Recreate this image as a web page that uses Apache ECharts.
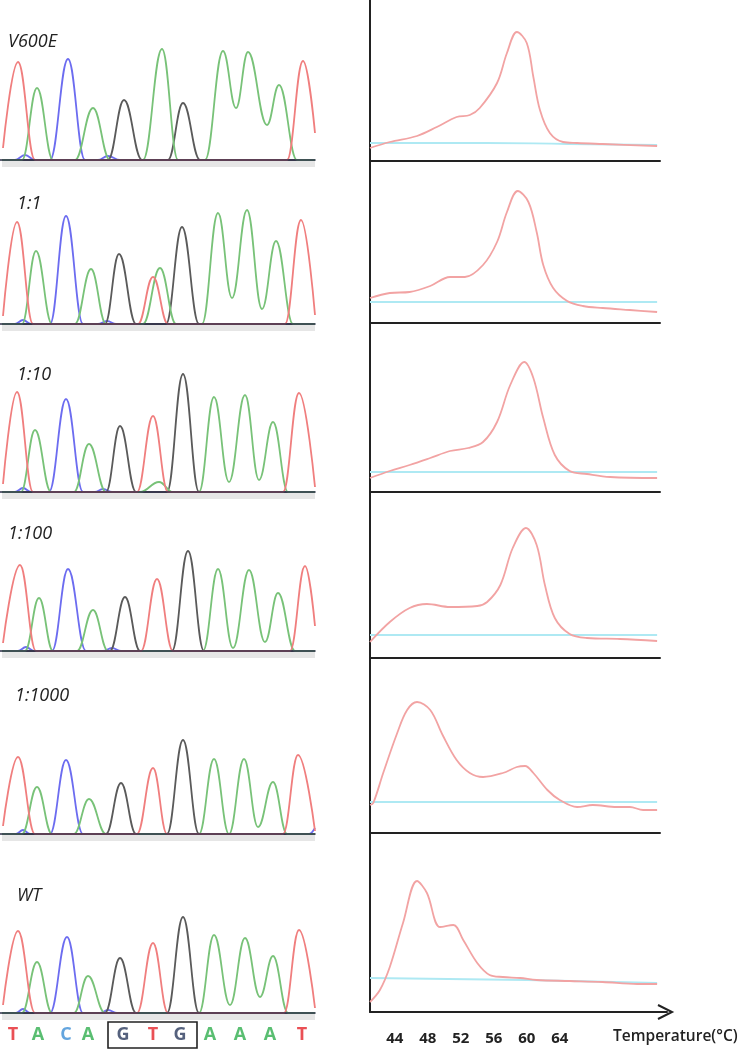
<!DOCTYPE html>
<html>
<head>
<meta charset="utf-8">
<script src="https://cdn.jsdelivr.net/npm/echarts@6/dist/echarts.min.js"></script>
<style>
  html, body { margin: 0; padding: 0; background: #fff; }
  #chart { width: 742px; height: 1050px; }
</style>
</head>
<body>
<div id="chart"></div>
<script>
// sample labels, top to bottom
const panelNames = ['V600E', '1:1', '1:10', '1:100', '1:1000', 'WT'];

// chromatogram traces, one continuous line per dye: [base, [[position, signal], ...]]
const traceV600E = [
  ['C', [[2, 0], [15, 0], [25, 5], [35, 0], [50, 0], [68, 101], [85, 0], [98, 0], [108, 4], [120, 0], [315, 0]]],
  ['G', [[2, 0], [108, 0], [124, 60], [142, 0], [168, 0], [183, 57], [200, 0], [315, 0]]],
  ['A', [[2, 0], [22, 0], [37, 72], [53, 0], [75, 0], [93, 52], [110, 0], [143, 0], [162, 111], [178, 0], [205, 0], [223, 109], [236, 52], [248, 108], [267, 35], [279, 75], [297, 0], [315, 0]]],
  ['T', [[3, 12], [18, 98], [35, 0], [287, 0], [303, 99], [315, 27]]]
];
const trace1to1 = [
  ['C', [[2, 0], [15, 0], [23, 4], [31, 0], [50, 0], [66, 108], [83, 0], [98, 0], [107, 3], [116, 0], [315, 0]]],
  ['G', [[2, 0], [105, 0], [119, 70], [136, 0], [166, 0], [182, 97], [199, 0], [315, 0]]],
  ['A', [[2, 0], [22, 0], [36, 73], [52, 0], [75, 0], [91, 55], [106, 0], [143, 0], [160, 56], [176, 0], [202, 0], [218, 111], [232, 26], [247, 114], [262, 15], [276, 83], [293, 0], [315, 0]]],
  ['T', [[3, 8], [17, 102], [33, 0], [138, 0], [153, 47], [168, 0], [285, 0], [301, 104], [315, 9]]]
];
const trace1to10 = [
  ['C', [[2, 0], [15, 0], [23, 4], [31, 0], [49, 0], [66, 93], [83, 0], [95, 0], [103, 3], [112, 0], [315, 0]]],
  ['G', [[2, 0], [106, 0], [120, 66], [136, 0], [167, 0], [183, 118], [199, 0], [315, 0]]],
  ['A', [[2, 0], [21, 0], [35, 62], [51, 0], [74, 0], [89, 48], [106, 0], [140, 0], [159, 10], [173, 0], [199, 0], [214, 95], [229, 10], [245, 97], [259, 12], [273, 70], [288, 0], [315, 0]]],
  ['T', [[3, 8], [17, 100], [33, 0], [137, 0], [153, 76], [168, 0], [283, 0], [299, 99], [315, 5]]]
];
const trace1to100 = [
  ['C', [[2, 0], [18, 0], [26, 4], [34, 0], [52, 0], [68, 82], [86, 0], [103, 0], [112, 3], [121, 0], [315, 0]]],
  ['G', [[2, 0], [110, 0], [125, 54], [140, 0], [172, 0], [188, 100], [204, 0], [315, 0]]],
  ['A', [[2, 0], [25, 0], [39, 53], [53, 0], [77, 0], [93, 41], [108, 0], [203, 0], [218, 82], [233, 3], [249, 81], [265, 9], [278, 58], [295, 0], [315, 0]]],
  ['T', [[3, 8], [20, 86], [36, 0], [141, 0], [157, 72], [173, 0], [290, 0], [305, 85], [315, 25]]]
];
const trace1to1000 = [
  ['C', [[2, 0], [16, 0], [23, 4], [30, 0], [50, 0], [66, 74], [83, 0], [309, 0], [315, 6]]],
  ['G', [[2, 0], [106, 0], [121, 51], [136, 0], [167, 0], [183, 94], [199, 0], [315, 0]]],
  ['A', [[2, 0], [22, 0], [37, 47], [52, 0], [74, 0], [89, 35], [106, 0], [199, 0], [214, 75], [229, 0], [244, 75], [258, 7], [273, 52], [287, 0], [315, 0]]],
  ['T', [[3, 8], [18, 77], [35, 0], [137, 0], [153, 66], [167, 0], [283, 0], [298, 79], [315, 3]]]
];
const traceWT = [
  ['C', [[2, 0], [16, 0], [23, 4], [30, 0], [50, 0], [67, 76], [83, 0], [100, 0], [108, 3], [117, 0], [315, 0]]],
  ['G', [[2, 0], [105, 0], [120, 55], [136, 0], [167, 0], [183, 96], [199, 0], [315, 0]]],
  ['A', [[2, 0], [22, 0], [37, 51], [52, 0], [74, 0], [88, 37], [105, 0], [199, 0], [214, 78], [230, 8], [245, 75], [260, 16], [273, 57], [288, 0], [315, 0]]],
  ['T', [[3, 8], [18, 82], [35, 0], [137, 0], [153, 70], [168, 0], [284, 0], [299, 83], [315, 5]]]
];
const traces = [traceV600E, trace1to1, trace1to10, trace1to100, trace1to1000, traceWT];

// melting curves: [temperature °C, -dF/dT]
const meltV600E = [[41.0, 13], [43.4, 19], [46.7, 25], [49.1, 34], [51.5, 44], [53.1, 46], [54.3, 53], [56.4, 78], [57.6, 108], [58.8, 129], [60.0, 118], [60.8, 84], [61.6, 51], [62.8, 28], [64.4, 19], [66.1, 18], [69.2, 17], [75.8, 15]];
const melt1to1 = [[41.0, 25], [43.4, 30], [45.8, 31], [48.3, 37], [50.7, 46], [52.5, 46], [54.7, 58], [56.4, 81], [57.6, 111], [58.9, 132], [60.2, 121], [61.2, 91], [62.0, 58], [63.2, 35], [64.9, 22], [66.8, 17], [69.2, 15], [72.5, 13], [75.8, 11]];
const melt1to10 = [[41.0, 14], [43.4, 21], [45.8, 27], [48.3, 34], [50.7, 41], [52.9, 44], [54.7, 50], [56.4, 70], [58.0, 107], [59.7, 130], [60.8, 114], [62.0, 74], [63.4, 37], [65.2, 21], [67.3, 18], [70.1, 15], [75.8, 14]];
const melt1to100 = [[41.0, 16], [43.4, 36], [45.8, 50], [47.9, 54], [50.7, 51], [54.0, 52], [55.2, 56], [56.8, 73], [58.3, 110], [59.9, 130], [61.2, 113], [62.2, 73], [63.4, 40], [65.2, 24], [67.3, 20], [71.3, 19], [75.8, 17]];
const melt1to1000 = [[41.0, 28], [41.4, 30], [42.6, 60], [44.3, 100], [45.5, 123], [46.7, 131], [48.3, 123], [49.8, 98], [51.5, 73], [53.1, 60], [54.7, 56], [57.1, 60], [58.8, 66], [59.8, 67], [60.8, 60], [62.5, 43], [64.0, 33], [66.1, 26], [68.0, 28], [70.9, 26], [72.5, 26], [74.1, 23], [75.8, 23]];
const meltWT = [[41.0, 10], [42.2, 22], [43.4, 45], [45.0, 89], [46.7, 131], [47.9, 119], [49.5, 85], [51.1, 87], [52.3, 72], [54.0, 49], [55.5, 37], [57.1, 35], [59.2, 34], [61.2, 32], [65.2, 31], [69.2, 30], [73.4, 28], [75.8, 28]];
const melts = [meltV600E, melt1to1, melt1to10, melt1to100, melt1to1000, meltWT];

// no-template control lines
const ntcV600E = [[41, 18], [55, 18], [65, 17], [75.8, 16]];
const ntc1to1 = [[41, 21], [75.8, 21]];
const ntc1to10 = [[41, 20], [75.8, 20]];
const ntc1to100 = [[41, 23], [75.8, 23]];
const ntc1to1000 = [[41, 31], [75.8, 31]];
const ntcWT = [[41, 34], [60, 32], [75.8, 29]];
const ntcs = [ntcV600E, ntc1to1, ntc1to10, ntc1to100, ntc1to1000, ntcWT];

// base calls under the WT trace
const bases = ['T', 'A', 'C', 'A', 'G', 'T', 'G', 'A', 'A', 'A', 'T'];
const basePos = [13, 38, 66, 88, 123, 153, 180, 210, 240, 270, 302];
const codonRange = [108, 197];

// temperature tick labels
const tempTicks = [44, 48, 52, 56, 60, 64];

// layout (pixels)
const leftBaseY = [160, 324, 492, 651, 834, 1013];
const rightAxisY = [161, 323, 492, 658, 833, 1012];
const labelTop = [33, 195, 366, 525, 687, 887];
const labelLeft = [8, 17, 17, 8, 15, 17];

const traceColor = { T: '#f07e7e', A: '#78c278', C: '#6c6cf0', G: '#5a5a5a' };
const letterColor = { T: '#e5242a', A: '#2fae4e', C: '#3d8fd6', G: '#2b3a5c' };

const chart = echarts.init(document.getElementById('chart'), null, { renderer: 'canvas' });
const option = {
  animation: false,
  backgroundColor: '#ffffff',
  title: [],
  grid: [],
  xAxis: [],
  yAxis: [],
  series: [],
  graphic: []
};

panelNames.forEach((name, i) => {
  // chromatogram panel
  const lg = option.grid.length;
  option.grid.push({ left: 0, top: leftBaseY[i] - 130, width: 315, height: 138 });
  option.xAxis.push({
    gridIndex: lg, type: 'value', min: 0, max: 315, z: 5,
    axisLine: { show: true, onZero: true, lineStyle: { color: '#2d2d48', width: 1.6 } },
    axisTick: { show: false }, axisLabel: { show: false }, splitLine: { show: false }
  });
  option.yAxis.push({ gridIndex: lg, type: 'value', min: -8, max: 130, show: false, splitLine: { show: false } });
  traces[i].forEach((trace, k) => {
    const s = {
      type: 'line', xAxisIndex: lg, yAxisIndex: lg,
      data: trace[1], smooth: 0.42, smoothMonotone: 'x', symbol: 'none', silent: true,
      lineStyle: { color: traceColor[trace[0]], width: 1.8 }
    };
    if (k === 0) {
      s.markArea = {
        silent: true, itemStyle: { color: '#e6e6e6' },
        data: [[{ coord: [2, -7] }, { coord: [315, 0] }]]
      };
    }
    option.series.push(s);
  });
  option.title.push({
    text: name, left: labelLeft[i], top: labelTop[i], padding: 0,
    textStyle: { fontFamily: 'Open Sans', fontStyle: 'italic', fontWeight: 'normal', fontSize: 18, color: '#222' }
  });

  // melting curve panel
  const rg = option.grid.length;
  const top = i === 0 ? 0 : rightAxisY[i - 1];
  const h = rightAxisY[i] - top;
  const last = i === panelNames.length - 1;
  option.grid.push({ left: 370, top: top, width: last ? 297 : 290, height: h });
  option.xAxis.push({
    gridIndex: rg, type: 'value', min: 41, max: last ? 77 : 76.15, interval: 1,
    axisLine: { show: true, onZero: false, lineStyle: { color: '#222', width: 2 } },
    axisTick: { show: false }, splitLine: { show: false },
    axisLabel: last ? {
      show: true, interval: 0, margin: 19, color: '#222',
      fontFamily: 'Open Sans', fontWeight: 'bold', fontSize: 15,
      formatter: v => (tempTicks.indexOf(v) >= 0 ? String(v) : '')
    } : { show: false }
  });
  option.yAxis.push({
    gridIndex: rg, type: 'value', min: 0, max: h,
    axisLine: { show: true, lineStyle: { color: '#222', width: 2 } },
    axisTick: { show: false }, axisLabel: { show: false }, splitLine: { show: false }
  });
  option.series.push({
    type: 'line', xAxisIndex: rg, yAxisIndex: rg, data: ntcs[i],
    smooth: true, symbol: 'none', silent: true,
    lineStyle: { color: '#aee9f3', width: 1.8 }
  });
  option.series.push({
    type: 'line', xAxisIndex: rg, yAxisIndex: rg, data: melts[i],
    smooth: 0.35, symbol: 'none', silent: true,
    lineStyle: { color: '#f2a3a3', width: 1.8 }
  });
});

// base-call letters row
const bg = option.grid.length;
option.grid.push({ left: 0, top: 1022, width: 315, height: 26 });
option.xAxis.push({ gridIndex: bg, type: 'value', min: 0, max: 315, show: false, splitLine: { show: false } });
option.yAxis.push({ gridIndex: bg, type: 'value', min: 0, max: 1, show: false, splitLine: { show: false } });
option.series.push({
  type: 'scatter', xAxisIndex: bg, yAxisIndex: bg, symbolSize: 1, silent: true,
  itemStyle: { color: 'rgba(0,0,0,0)' },
  data: bases.map((b, i) => ({
    value: [basePos[i], 0.5],
    label: { show: true, position: 'inside', formatter: b, color: letterColor[b] }
  })),
  label: { fontFamily: 'Open Sans', fontWeight: 'bold', fontSize: 18 },
  markArea: {
    silent: true,
    itemStyle: { color: 'rgba(0,0,0,0)', borderColor: '#222', borderWidth: 1.6 },
    data: [[{ xAxis: codonRange[0] }, { xAxis: codonRange[1] }]]
  }
});

option.title.push({
  text: 'Temperature(°C)', left: 613, top: 1029, padding: 0,
  textStyle: { fontFamily: 'Open Sans', fontWeight: 600, fontSize: 15.5, color: '#222' }
});

// arrow head of temperature axis
option.graphic.push({
  type: 'polyline', silent: true,
  shape: { points: [[658, 1005], [672, 1012], [658, 1019]] },
  style: { stroke: '#222', lineWidth: 2, fill: null }
});

chart.setOption(option);
</script>
</body>
</html>
